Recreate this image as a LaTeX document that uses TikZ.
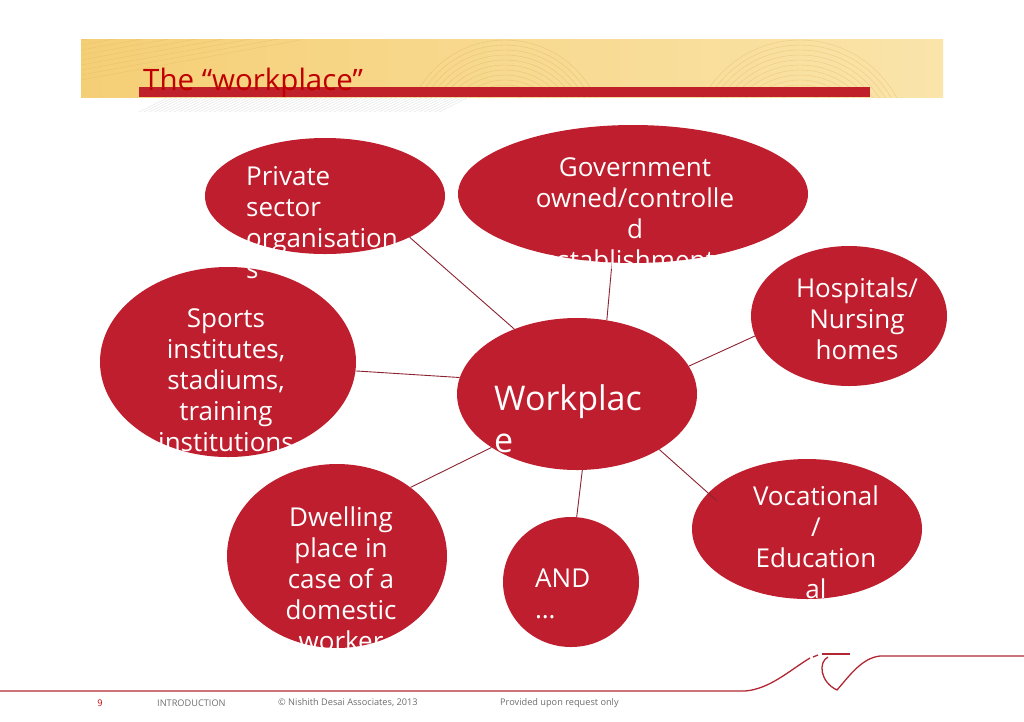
\documentclass[tikz,border=0pt]{standalone}
\usepackage{fontspec}
\setmainfont{Open Sans}
\usetikzlibrary{shapes.geometric}
\definecolor{bub}{RGB}{190,30,45}
\definecolor{conn}{RGB}{140,35,50}
\definecolor{titleRed}{RGB}{192,0,0}
\definecolor{barRed}{RGB}{192,32,42}
\definecolor{footRed}{RGB}{178,40,50}
\definecolor{hdrL}{RGB}{245,207,118}
\definecolor{hdrR}{RGB}{250,228,170}
\definecolor{arcCol}{RGB}{222,180,95}
\definecolor{footGray}{RGB}{110,110,110}
\tikzset{
  bubble/.style={ellipse, fill=bub, draw=none, inner sep=0pt},
  conline/.style={draw=conn, line width=0.9pt},
  btext/.style={text=white, inner sep=0pt, font=\fontsize{26}{31}\selectfont},
  foottext/.style={text=footGray, inner sep=0pt, anchor=west, font=\fontsize{9.2}{11}\selectfont},
}
\begin{document}
\begin{tikzpicture}[x=1pt,y=-1pt]
\useasboundingbox (0,0) rectangle (1024,721);
\fill[white] (0,0) rectangle (1024,721);

% header band
\shade[left color=hdrL, right color=hdrR] (81,39) rectangle (943,97);
\begin{scope}
  \clip (81,39) rectangle (943,97);
  \foreach \r in {40,45,...,100} {\draw[arcCol, opacity=0.55, line width=0.4pt] (505,140) circle (\r);}
  \foreach \r in {50,55,...,110} {\draw[arcCol, opacity=0.5, line width=0.4pt] (800,150) circle (\r);}
  \foreach \d in {0,5,...,60} {\draw[arcCol, opacity=0.45, line width=0.4pt] (81,80-\d) -- (300,40-\d);}
\end{scope}
\begin{scope}
  \clip (139,97) rectangle (870,112);
  \foreach \d in {0,5,...,300} {\draw[black!12, line width=0.3pt] (139+\d,112) -- (169+\d,97);}
\end{scope}
\fill[barRed] (139,87) rectangle (870,97);
\node[anchor=base west, inner sep=0pt, text=titleRed, font=\fontsize{29.5}{32}\selectfont] (title) at (143,90) {The “workplace”};

% bubbles
\node[bubble, minimum width=240pt, minimum height=116pt] (priv) at (325,196) {};
\node[bubble, minimum width=350pt, minimum height=138pt] (gov) at (633,194) {};
\node[bubble, minimum width=196pt, minimum height=140pt] (hosp) at (849,316) {};
\node[bubble, minimum width=256pt, minimum height=190pt] (sports) at (228,362) {};
\node[bubble, minimum width=240pt, minimum height=152pt] (wp) at (577,394) {};
\node[bubble, minimum width=220pt, minimum height=184pt] (dwell) at (337,556) {};
\node[bubble, minimum width=136pt, minimum height=130pt] (and) at (571,582) {};
\node[bubble, minimum width=230pt, minimum height=140pt] (voc) at (807,529) {};

% connectors
\draw[conline] (priv.-26) -- (wp.134);
\draw[conline] (gov.-107) -- (wp.68);
\draw[conline] (hosp.-168) -- (wp.14);
\draw[conline] (sports.-4) -- (wp.172);
\draw[conline] (dwell.43) -- (wp.212);
\draw[conline] (and.85) -- (wp.-86);
\draw[conline, shorten >=-12pt] (wp.-34) -- (voc.160);

% texts
\node[btext, anchor=north west, align=left] (tpriv) at (246,166) {Private\\sector\\organisation\\s};
\node[btext, anchor=north, align=center] (tgov) at (635,157) {Government\\owned/controlle\\d\\establishments};
\node[btext, anchor=north, align=center] (thosp) at (857,278) {Hospitals/\\Nursing\\homes};
\node[btext, anchor=north, align=center] (tsports) at (226,308) {Sports\\institutes,\\stadiums,\\training\\institutions};
\node[text=white, inner sep=0pt, font=\fontsize{34}{42}\selectfont, anchor=north west, align=left] (twp) at (494,384) {Workplac\\e};
\node[btext, anchor=north, align=center] (tdwell) at (341,507) {Dwelling\\place in\\case of a\\domestic\\worker};
\node[btext, anchor=north west, align=left] (tand) at (535,569) {AND\\…};
\node[btext, anchor=north, align=center] (tvoc) at (816,486) {Vocational\\/\\Education\\al};

% footer
\draw[footRed, line width=1.3pt] (0,691) -- (745,691) .. controls (770,689) and (790,670) .. (810,658);
\draw[footRed, line width=1.3pt] (813,657) -- (818,655);
\draw[footRed, line width=1.8pt] (822,654) -- (850,654);
\draw[footRed, line width=1.3pt] (828,657) .. controls (818,662) and (820,682) .. (837,690)
  .. controls (850,675) and (862,658) .. (880,656) -- (1024,656);
\node[text=titleRed, inner sep=0pt, font=\fontsize{9.2}{11}\selectfont] (pg) at (100,703) {9};
\node[foottext] (f1) at (157,703) {INTRODUCTION};
\node[foottext] (f2) at (278,703) {© Nishith Desai Associates, 2013};
\node[foottext] (f3) at (500,703) {Provided upon request only};
\end{tikzpicture}
\end{document}
